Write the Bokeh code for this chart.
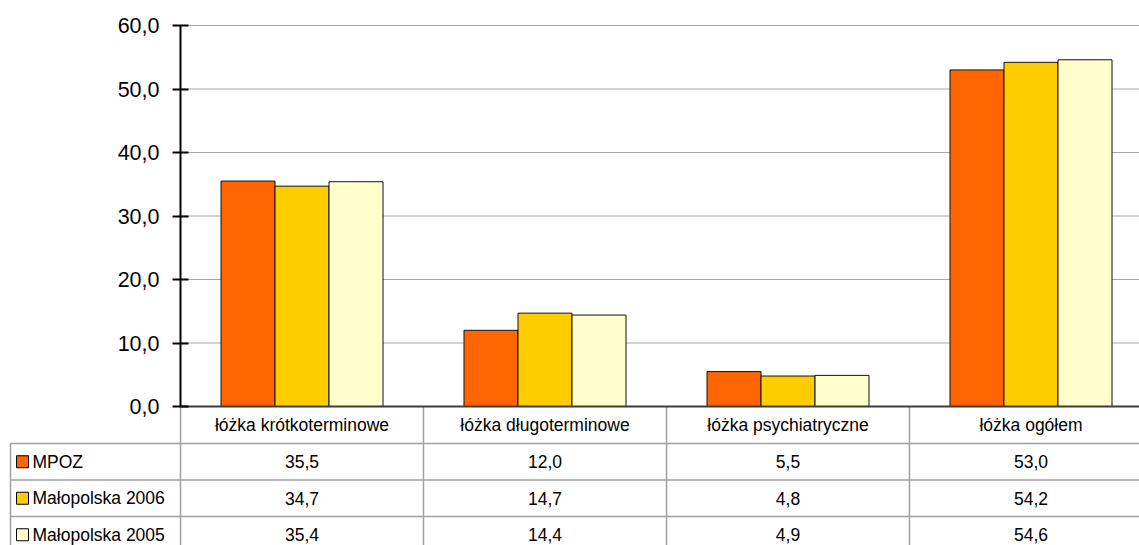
import numpy as np
from bokeh.plotting import figure
from bokeh.models import FixedTicker, Range1d, CustomJSTickFormatter
from bokeh.core.properties import value
from bokeh.embed import file_html
from bokeh.resources import INLINE

# ---------------- data ----------------
categories = ["łóżka krótkoterminowe", "łóżka długoterminowe",
              "łóżka psychiatryczne", "łóżka ogółem"]
series_names = ["MPOZ", "Małopolska 2006", "Małopolska 2005"]
mpoz = [35.5, 12.0, 5.5, 53.0]
malopolska_2006 = [34.7, 14.7, 4.8, 54.2]
malopolska_2005 = [35.4, 14.4, 4.9, 54.6]
y_ticks = [0, 10, 20, 30, 40, 50, 60]

# ---------------- styles / layout ----------------
colors = ["#FF6600", "#FFCC00", "#FFFFCC"]
FONT = "Liberation Sans"
GRID = "#A6A6A6"
TABLE = "#A0A0A0"

W, H = 1139, 545
AXIS_PX = 180.0      # pixel column of the value axis
ZERO_PX = 406.0      # pixel row of value 0
PX_X = 243.0         # pixels per category
PX_Y = 6.35          # pixels per value unit


def dx(px):  # pixel offset -> data x
    return px / PX_X


def dy(px):  # pixel offset -> data y
    return px / PX_Y


x_start, x_end = -dx(AXIS_PX), dx(W - AXIS_PX)
y_start, y_end = -dy(H - ZERO_PX), dy(ZERO_PX)

p = figure(width=W, height=H, output_backend="svg", toolbar_location=None,
           tools="", x_range=Range1d(x_start, x_end),
           y_range=Range1d(y_start, y_end), x_axis_location=None,
           min_border_left=0, min_border_top=0, min_border_right=0,
           min_border_bottom=0)
p.outline_line_color = None
p.background_fill_color = "white"
p.border_fill_color = "white"
p.xgrid.visible = False
p.ygrid.visible = False

# value axis, crossing at category start
ax = p.yaxis[0]
ax.fixed_location = 0
ax.ticker = FixedTicker(ticks=y_ticks)
ax.bounds = (min(y_ticks), max(y_ticks))
ax.formatter = CustomJSTickFormatter(code="return tick.toFixed(1).replace('.', ',');")
ax.axis_line_width = 2
ax.axis_line_color = "black"
ax.major_tick_line_width = 2
ax.major_tick_line_color = "black"
ax.major_tick_in = 8
ax.major_tick_out = 8
ax.minor_tick_line_color = None
ax.major_label_text_font = FONT
ax.major_label_text_font_size = "21.5px"
ax.major_label_text_color = "black"
ax.major_label_standoff = 13

# gridlines (start at the axis)
gt = y_ticks[1:]
p.segment(x0=[0] * len(gt), y0=gt, x1=[x_end] * len(gt), y1=gt,
          line_color=GRID, line_width=1)

# bars
series = [mpoz, malopolska_2006, malopolska_2005]
bar_w = dx(54)
centers = np.arange(len(categories)) + 0.5
offsets = [-bar_w, 0.0, bar_w]
for vals, off, c in zip(series, offsets, colors):
    p.vbar(x=centers + off, top=vals, bottom=0, width=bar_w,
           fill_color=c, line_color="#111111", line_width=1)

# ---------------- data table ----------------
header_h = 37
row_h = 36.5
bounds_y = [-dy(header_h + i * row_h) for i in range(len(series) + 1)]
header_c = -dy(header_h / 2)
row_c = [-dy(header_h + (i + 0.5) * row_h) for i in range(len(series))]
tab_left = -dx(AXIS_PX - 10)

# vertical separators
vx = list(range(len(categories)))
p.segment(x0=vx, y0=[0] * len(vx), x1=vx, y1=[y_start] * len(vx),
          line_color=TABLE, line_width=1.5)
p.segment(x0=[tab_left], y0=[bounds_y[0]], x1=[tab_left], y1=[y_start],
          line_color=TABLE, line_width=1.5)
# horizontal separators
nb = len(series)
p.segment(x0=[tab_left] * nb, y0=bounds_y[:nb], x1=[x_end] * nb, y1=bounds_y[:nb],
          line_color=TABLE, line_width=1.5)

# category axis line
p.segment(x0=[0], y0=[0], x1=[x_end], y1=[0], line_color="#3C3C3C", line_width=2)

# legend keys and names
key_l, key_r = -dx(AXIS_PX - 16), -dx(AXIS_PX - 28)
p.quad(left=[key_l] * nb, right=[key_r] * nb,
       top=[c + dy(6) for c in row_c], bottom=[c - dy(6) for c in row_c],
       fill_color=colors, line_color="black", line_width=1)
p.text(x=[-dx(AXIS_PX - 32)] * nb, y=row_c, text=series_names,
       text_align="left", text_baseline="middle",
       text_font=value(FONT), text_font_size="17.5px", text_color="black")

# header texts
p.text(x=centers, y=[header_c] * len(categories), text=categories,
       text_align="center", text_baseline="middle",
       text_font=value(FONT), text_font_size="17.5px", text_color="black")

# values
for vals, yc in zip(series, row_c):
    p.text(x=centers, y=[yc] * len(vals),
           text=[f"{v:.1f}".replace(".", ",") for v in vals],
           text_align="center", text_baseline="middle",
           text_font=value(FONT), text_font_size="17.5px", text_color="black")

open("out.html", "w").write(file_html(p, INLINE))
